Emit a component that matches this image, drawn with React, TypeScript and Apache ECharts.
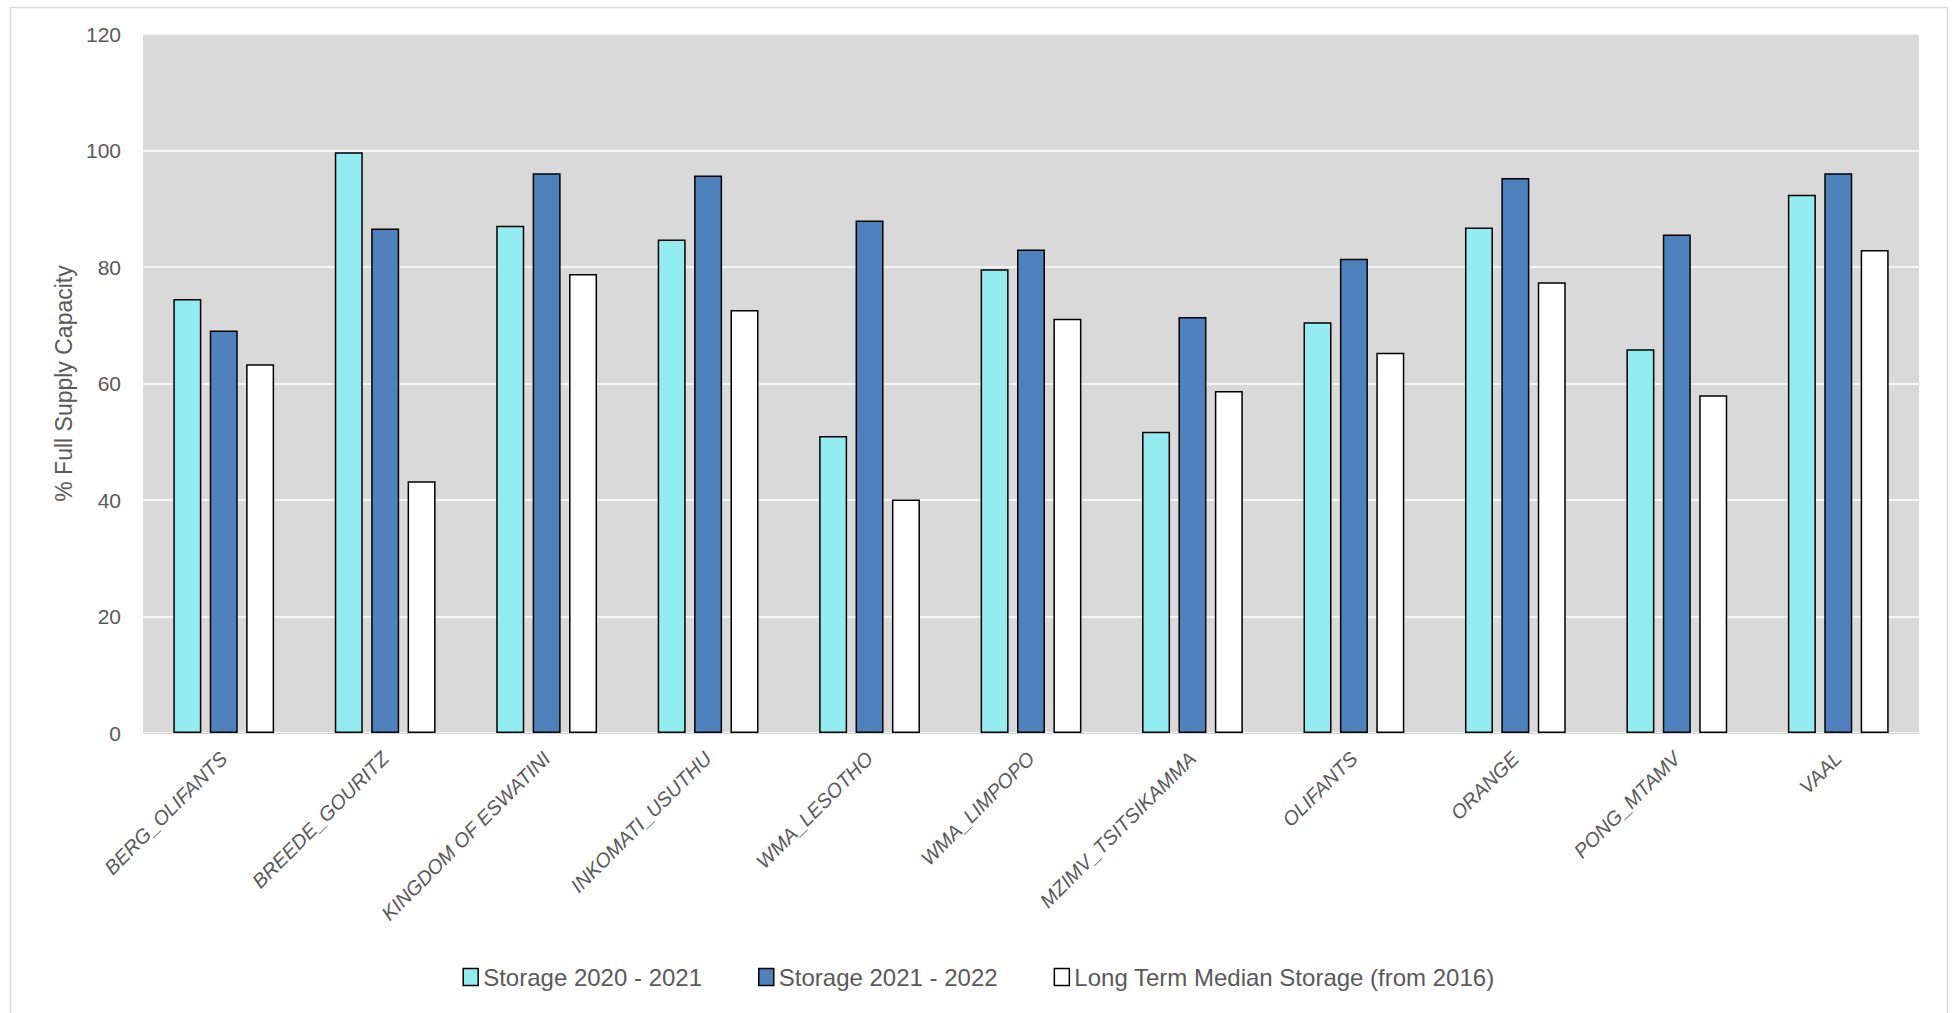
import React, { useEffect, useRef } from "react";
import * as echarts from "echarts";

const categories = [
  "BERG_OLIFANTS",
  "BREEDE_GOURITZ",
  "KINGDOM OF ESWATINI",
  "INKOMATI_USUTHU",
  "WMA_LESOTHO",
  "WMA_LIMPOPO",
  "MZIMV_TSITSIKAMMA",
  "OLIFANTS",
  "ORANGE",
  "PONG_MTAMV",
  "VAAL",
];

const storage2020_2021 = [74.5, 99.7, 87.1, 84.7, 51.0, 79.6, 51.7, 70.5, 86.8, 65.9, 92.4];
const storage2021_2022 = [69.1, 86.6, 96.1, 95.7, 88.0, 83.0, 71.4, 81.4, 95.3, 85.6, 96.1];
const longTermMedian = [63.3, 43.2, 78.8, 72.6, 40.1, 71.1, 58.7, 65.3, 77.4, 58.0, 82.9];

const seriesNames = [
  "Storage 2020 - 2021",
  "Storage 2021 - 2022",
  "Long Term Median Storage (from 2016)",
];

const yTicks = { min: 0, max: 120, interval: 20 };

const FONT = "'Liberation Sans', Arial, sans-serif";
const TEXT_COLOR = "#595959";

export default function App() {
  const ref = useRef<HTMLDivElement>(null);

  useEffect(() => {
    if (!ref.current) return;
    const chart = echarts.init(ref.current, null, { renderer: "svg" });

    const mkSeries = (name: string, data: number[], color: string) => ({
      name,
      type: "bar",
      data,
      barWidth: 28,
      barGap: "30%",
      itemStyle: { color, borderColor: "#000000", borderWidth: 1.5 },
      emphasis: { disabled: true },
    });

    chart.setOption({
      animation: false,
      backgroundColor: "#ffffff",
      textStyle: { fontFamily: FONT },
      graphic: [
        {
          type: "rect",
          shape: { x: 10.5, y: 7.5, width: 1937, height: 1100 },
          style: { fill: "none", stroke: "#D9D9D9", lineWidth: 1.5 },
          silent: true,
          z: -10,
        },
      ],
      grid: {
        left: 143,
        right: 38,
        top: 34,
        bottom: 280,
        show: true,
        backgroundColor: "#D9D9D9",
        borderWidth: 0,
        containLabel: false,
      },
      legend: {
        data: seriesNames,
        left: "center",
        top: 959,
        icon: "rect",
        itemWidth: 15,
        itemHeight: 17,
        itemGap: 56,
        itemStyle: { borderColor: "#000000", borderWidth: 1.5 },
        textStyle: { fontSize: 24, color: TEXT_COLOR, fontFamily: FONT, lineHeight: 26 },
      },
      xAxis: {
        type: "category",
        data: categories,
        axisLine: { show: true, lineStyle: { color: "#D0D0D0", width: 1 } },
        axisTick: { show: false },
        axisLabel: {
          rotate: 45,
          interval: 0,
          margin: 22,
          fontSize: 20,
          fontStyle: "italic",
          color: TEXT_COLOR,
          fontFamily: FONT,
        },
      },
      yAxis: {
        type: "value",
        min: yTicks.min,
        max: yTicks.max,
        interval: yTicks.interval,
        name: "% Full Supply Capacity",
        nameLocation: "middle",
        nameRotate: 90,
        nameGap: 68,
        nameTextStyle: { fontSize: 23, color: TEXT_COLOR, fontFamily: FONT },
        axisLine: { show: false },
        axisTick: { show: false },
        axisLabel: { fontSize: 21, color: TEXT_COLOR, margin: 22, fontFamily: FONT },
        splitLine: { show: true, lineStyle: { color: "#FFFFFF", width: 1.5 } },
      },
      series: [
        mkSeries(seriesNames[0], storage2020_2021, "#93ECF0"),
        mkSeries(seriesNames[1], storage2021_2022, "#4F81BD"),
        mkSeries(seriesNames[2], longTermMedian, "#FFFFFF"),
      ],
    });

    return () => chart.dispose();
  }, []);

  return (
    <div
      ref={ref}
      style={{ position: "absolute", left: 0, top: 0, width: 1957, height: 1013 }}
    />
  );
}
